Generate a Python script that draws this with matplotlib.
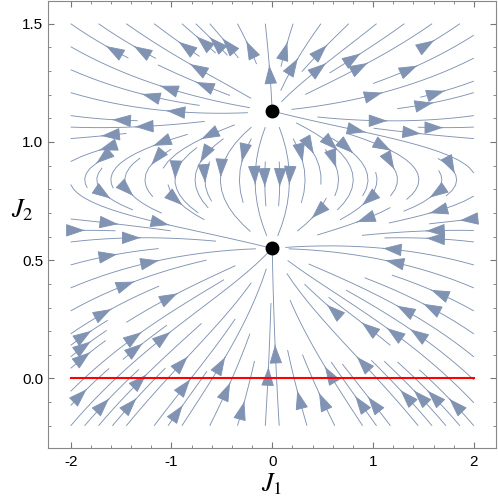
import matplotlib
matplotlib.use('Agg')
import matplotlib.pyplot as plt
import numpy as np

plt.rcParams['mathtext.fontset'] = 'stix'
plt.rcParams['font.family'] = ['Liberation Sans', 'DejaVu Sans']

# Points fixes du flot (J1 = 0)
J2_stable = 0.55
J2_instable = 1.13
J2_sep = (J2_stable + J2_instable) / 2   # ligne où dJ1 change de signe
k_1 = 2.0     # noeuds en étoile
e_2 = 0.25    # terme non linéaire loin des points fixes

x_ticks = [-2, -1, 0, 1, 2]
x_tick_labels = ['-2', '-1', '0', '1', '2']
y_ticks = [0.0, 0.5, 1.0, 1.5]
y_tick_labels = ['0.0', '0.5', '1.0', '1.5']

couleur = '#8093b3'

j1 = np.linspace(-2, 2, 300)
j2 = np.linspace(-0.2, 1.5, 300)
X, Y = np.meshgrid(j1, j2)
U = k_1 * X * (Y - J2_sep)
V = (Y - J2_stable) * (Y - J2_instable) + e_2 * X ** 2 * (Y - J2_sep) ** 2

fig = plt.figure(figsize=(4.98, 4.99), dpi=100)
ax = fig.add_axes([48 / 498, 51 / 499, 448 / 498, 447 / 499])

ax.streamplot(X, Y, U, V, density=(1.0, 1.2), color=couleur, linewidth=0.65,
              arrowsize=2.4, arrowstyle='-|>,head_length=0.5,head_width=0.17')

ax.plot([-2, 2], [0, 0], color='red', lw=1.5, zorder=3)
ax.plot([0, 0], [J2_stable, J2_instable], 'o', color='black', ms=9, zorder=4)

ax.set_xlim(-2.225, 2.22)
ax.set_ylim(-0.294, 1.596)
ax.set_xticks(x_ticks)
ax.set_xticklabels(x_tick_labels)
ax.set_yticks(y_ticks)
ax.set_yticklabels(y_tick_labels)
ax.set_xticks(np.arange(-2, 2.01, 0.2), minor=True)
ax.set_yticks(np.arange(-0.2, 1.51, 0.1), minor=True)
ax.tick_params(which='both', direction='in', top=True, right=True,
               labelsize=11, color='#777777')
ax.tick_params(which='major', length=4)
ax.tick_params(which='minor', length=2.5)
ax.tick_params(axis='x', pad=5)
ax.tick_params(axis='y', pad=3.5)
for s in ax.spines.values():
    s.set_color('#888888')

ax.set_xlabel(r'$J_1$', fontsize=19, labelpad=2)
ax.set_ylabel(r'$J_2$', fontsize=19, rotation=0, va='center', ha='center')
ax.yaxis.set_label_coords(-0.058, 0.532)

fig.savefig('out.png', dpi=100)
